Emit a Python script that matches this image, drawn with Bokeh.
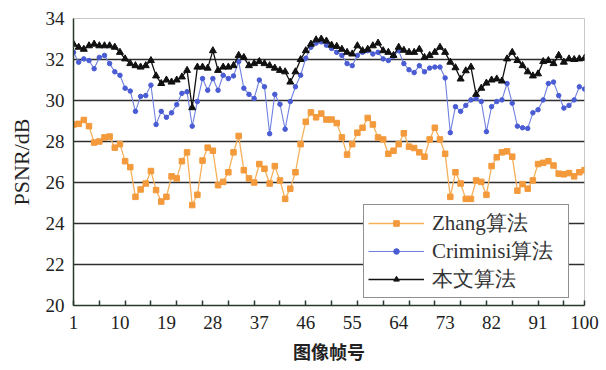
from bokeh.plotting import figure
from bokeh.models import Range1d, FixedTicker, Legend, LegendItem
from bokeh.embed import file_html
from bokeh.resources import INLINE

frames = list(range(1, 101))

zhang = [28.83, 28.86, 29.05, 28.75, 27.95, 28.0, 28.2, 28.24, 27.7, 27.87,
         27.04, 26.75, 25.3, 25.66, 25.95, 26.56, 25.63, 25.07, 25.3, 26.3,
         26.2, 27.04, 27.47, 24.9, 25.4, 27.07, 27.7, 27.55, 25.87, 26.03,
         26.5, 27.47, 28.27, 26.6, 26.2, 26.0, 26.9, 26.67, 25.95, 26.8,
         26.1, 25.2, 25.7, 26.5, 27.87, 28.96, 29.42, 29.18, 29.36, 29.07,
         29.07, 28.9, 28.2, 27.36, 27.87, 28.43, 28.67, 29.15, 28.83, 28.2,
         28.1, 27.4, 27.55, 27.87, 28.4, 27.75, 27.68, 27.47, 27.26, 28.1,
         28.67, 28.1, 27.4, 25.3, 26.5, 25.95, 25.2, 25.2, 26.1, 26.03,
         25.4, 26.8, 27.23, 27.47, 27.52, 27.26, 25.6, 25.92, 25.7, 26.1,
         26.9, 26.96, 27.04, 26.83, 26.43, 26.4, 26.46, 26.3, 26.5, 26.6]

criminisi = [32.35, 31.87, 32.03, 31.95, 31.55, 32.1, 32.2, 31.8, 31.4, 31.23,
             30.6, 30.46, 29.47, 30.2, 30.24, 30.75, 28.83, 29.47, 29.18, 29.4,
             29.8, 30.35, 30.43, 28.75, 29.95, 31.07, 30.5, 31.07, 30.5, 31.23,
             31.07, 31.2, 31.9, 30.6, 30.3, 30.1, 31.0, 30.67, 28.38, 30.3,
             29.82, 28.6, 29.95, 30.67, 31.23, 32.06, 32.6, 32.8, 32.86, 32.7,
             32.54, 32.35, 32.2, 31.8, 31.7, 32.2, 32.35, 32.43, 32.27, 32.35,
             32.03, 31.95, 32.16, 32.43, 31.8, 31.5, 31.36, 31.7, 31.4, 31.58,
             31.63, 31.63, 31.1, 28.43, 29.7, 29.47, 29.76, 30.03, 30.1, 29.95,
             28.48, 29.7, 29.95, 30.03, 30.83, 29.87, 28.75, 28.67, 28.64, 29.4,
             29.55, 30.03, 30.83, 30.9, 30.24, 29.63, 29.76, 30.03, 30.67, 30.56]

ours = [32.75, 32.6, 32.5, 32.67, 32.75, 32.67, 32.67, 32.67, 32.6, 32.35,
        32.03, 31.8, 31.7, 31.63, 31.7, 31.95, 31.2, 30.83, 31.0, 30.9,
        31.0, 31.15, 31.47, 29.65, 31.63, 31.63, 31.58, 32.43, 31.47, 31.63,
        31.63, 31.7, 32.2, 32.1, 31.7, 31.8, 31.9, 31.8, 31.7, 31.58,
        31.47, 31.4, 30.9, 31.4, 32.0, 32.43, 32.75, 32.96, 33.0, 32.9,
        32.7, 32.64, 32.5, 32.35, 32.27, 32.67, 32.43, 32.5, 32.67, 32.8,
        32.43, 32.35, 32.2, 32.6, 32.45, 32.35, 32.35, 32.5, 32.1, 32.2,
        32.35, 32.6, 32.35, 31.87, 31.6, 31.05, 31.45, 31.63, 30.3, 30.6,
        30.85, 31.0, 31.05, 30.95, 32.03, 32.35, 31.95, 31.7, 31.4, 31.2,
        31.3, 31.9, 31.95, 31.8, 32.2, 31.87, 32.03, 32.0, 32.03, 32.06]

x_ticks = [1, 10, 19, 28, 37, 46, 55, 64, 73, 82, 91, 100]
x_minor_ticks = [1, 6, 11, 16, 21, 26, 31, 36, 41, 46, 51, 56, 61, 66, 71, 76,
                 81, 86, 91, 96, 100]
y_ticks = [20, 22, 24, 26, 28, 30, 32, 34]
labels = ["Zhang算法", "Criminisi算法", "本文算法"]

SERIF = "Liberation Serif"
CJK = "Noto Sans CJK SC"

p = figure(width=600, height=366, output_backend="svg", toolbar_location=None,
           x_range=Range1d(1, 100), y_range=Range1d(20, 34),
           min_border_left=73, min_border_right=16, min_border_top=18,
           min_border_bottom=59, background_fill_color="white",
           border_fill_color="white")
p.outline_line_color = "#c8c8c8"

p.xaxis.ticker = FixedTicker(ticks=x_ticks, minor_ticks=x_minor_ticks)
p.yaxis.ticker = FixedTicker(ticks=y_ticks)
p.xgrid.grid_line_color = None
p.ygrid.ticker = FixedTicker(ticks=y_ticks)
p.ygrid.grid_line_color = "#2e2e2e"
p.ygrid.grid_line_width = 1.3

for ax in (p.xaxis[0], p.yaxis[0]):
    ax.axis_line_color = "#2a3a2a"
    ax.axis_line_width = 1.5
    ax.major_label_text_font = SERIF
    ax.major_label_text_font_size = "19px"
    ax.major_label_text_color = "#222222"
    ax.axis_label_text_color = "#222222"

p.xaxis.major_tick_in = 0
p.xaxis.major_tick_out = 0
p.xaxis.minor_tick_in = 5
p.xaxis.minor_tick_out = 0
p.xaxis.minor_tick_line_color = "#2a3a2a"
p.xaxis.minor_tick_line_width = 1.5
p.xaxis.major_label_standoff = 10
p.xaxis.axis_label = "图像帧号"
p.xaxis.axis_label_text_font = CJK
p.xaxis.axis_label_text_font_size = "18px"
p.xaxis.axis_label_text_font_style = "bold"
p.xaxis.axis_label_standoff = 6

p.yaxis.major_tick_in = 0
p.yaxis.major_tick_out = 0
p.yaxis.minor_tick_line_color = None
p.yaxis.major_label_standoff = 9
p.yaxis.axis_label = "PSNR/dB"
p.yaxis.axis_label_text_font = SERIF
p.yaxis.axis_label_text_font_size = "22px"
p.yaxis.axis_label_text_font_style = "normal"
p.yaxis.axis_label_standoff = 9

l1 = p.line(frames, zhang, line_color="#f7b05a", line_width=1.3)
s1 = p.scatter(frames, zhang, marker="square", size=5.5, fill_color="#f39a3c",
               line_color="#f39a3c")
l2 = p.line(frames, criminisi, line_color="#6f80e0", line_width=1.1)
s2 = p.scatter(frames, criminisi, marker="circle", size=4.5, fill_color="#4a5cd4",
               line_color="#4a5cd4")
l3 = p.line(frames, ours, line_color="#111111", line_width=1.3)
s3 = p.scatter(frames, ours, marker="triangle", size=7, fill_color="#111111",
               line_color="#111111")

legend = Legend(items=[LegendItem(label=labels[0], renderers=[l1, s1]),
                       LegendItem(label=labels[1], renderers=[l2, s2]),
                       LegendItem(label=labels[2], renderers=[l3, s3])],
                location=(290, 7), margin=0, padding=4, spacing=0,
                glyph_width=56, glyph_height=14, label_height=27,
                label_width=132, label_standoff=8)
legend.label_text_font = SERIF
legend.label_text_font_size = "21px"
legend.label_text_color = "#333333"
legend.border_line_color = "#222222"
legend.border_line_width = 1.5
legend.background_fill_color = "white"
legend.background_fill_alpha = 1
p.add_layout(legend)

open("out.html", "w").write(file_html(p, INLINE))
